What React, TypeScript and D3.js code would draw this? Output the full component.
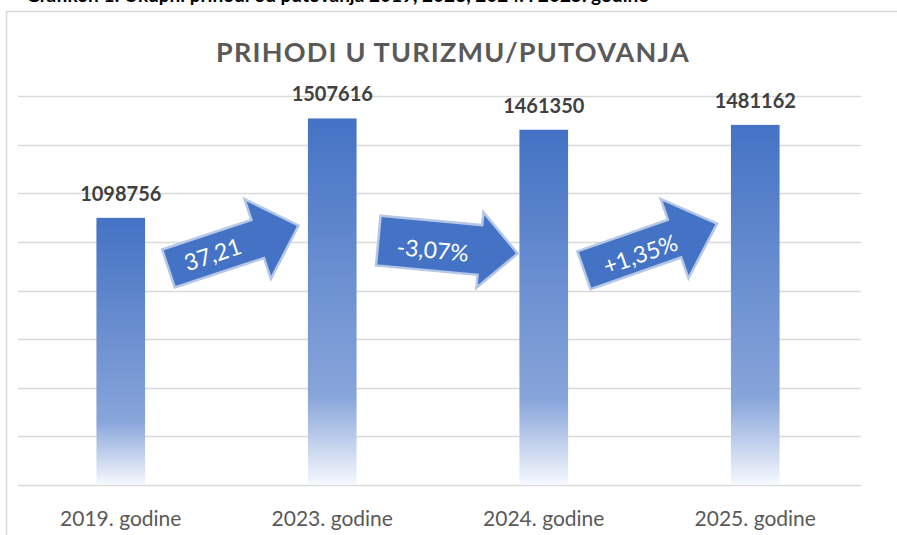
import * as d3 from 'd3';
import React, { useEffect, useRef } from 'react';

const categories = ['2019. godine', '2023. godine', '2024. godine', '2025. godine'];
const revenues = [1098756, 1507616, 1461350, 1481162];
const changeLabels = ['37,21', '-3,07%', '+1,35%'];
const yMax = 1600000;
const yStep = 200000;

const caption = 'Grafikon 1: Ukupni prihodi od putovanja 2019, 2023, 2024. i 2025. godine';
const title = 'PRIHODI U TURIZMU/PUTOVANJA';

// shape of each arrow (angle in degrees, length, shaft width, head width, head length, dx)
const arrowShapes = [
  { angle: -18.3, len: 137, sw: 40, hw: 84, hl: 43, dx: 7, tx: -22, ty: 3 },
  { angle: 5.3, len: 140, sw: 50, hw: 76, hl: 38, dx: 10, tx: -15, ty: 7 },
  { angle: -19.3, len: 141, sw: 40, hw: 84, hl: 45, dx: 1, tx: -12, ty: 6 },
];

const App = () => {
  const svgRef = useRef<SVGSVGElement>(null);

  useEffect(() => {
    const width = 897;
    const height = 535;
    const margin = { top: 96, right: 36, bottom: 50, left: 15 };

    const svg = d3.select(svgRef.current);
    svg.selectAll('*').remove();
    svg.attr('width', width).attr('height', height);

    const font = 'Lato, Carlito, Calibri, sans-serif';

    // gradient for bars
    const defs = svg.append('defs');
    const grad = defs.append('linearGradient')
      .attr('id', 'barGrad')
      .attr('x1', 0).attr('y1', 0).attr('x2', 0).attr('y2', 1);
    grad.append('stop').attr('offset', '0%').attr('stop-color', '#4472C4');
    grad.append('stop').attr('offset', '76%').attr('stop-color', '#88A5DA');
    grad.append('stop').attr('offset', '100%').attr('stop-color', '#F6F8FD');

    // caption cut off at the top
    svg.append('text')
      .attr('x', 26)
      .attr('y', 2)
      .attr('font-family', font)
      .attr('font-weight', 'bold')
      .attr('font-size', 19)
      .attr('fill', '#000')
      .text(caption);

    // chart frame
    svg.append('rect')
      .attr('x', 6.5).attr('y', 11.5)
      .attr('width', 1000).attr('height', 1000)
      .attr('fill', '#fff')
      .attr('stroke', '#D9D9D9')
      .attr('stroke-width', 1.5);

    const xScale = d3.scaleBand()
      .domain(categories)
      .range([margin.left, width - margin.right])
      .paddingInner(0.77)
      .paddingOuter(0.385);

    const yScale = d3.scaleLinear()
      .domain([0, yMax])
      .range([height - margin.bottom, margin.top]);

    // gridlines
    svg.append('g')
      .selectAll('line')
      .data(d3.range(0, yMax + 1, yStep))
      .enter()
      .append('line')
      .attr('x1', 18)
      .attr('x2', width - margin.right)
      .attr('y1', d => Math.round(yScale(d)) + 0.5)
      .attr('y2', d => Math.round(yScale(d)) + 0.5)
      .attr('stroke', '#D9D9D9')
      .attr('stroke-width', 1.5);

    // title
    svg.append('text')
      .attr('x', 453)
      .attr('y', 62)
      .attr('text-anchor', 'middle')
      .attr('font-family', font)
      .attr('font-weight', 'bold')
      .attr('font-size', 27)
      .attr('letter-spacing', 1.2)
      .attr('fill', '#595959')
      .text(title);

    // bars
    svg.append('g')
      .selectAll('rect')
      .data(revenues)
      .enter()
      .append('rect')
      .attr('x', (d, i) => xScale(categories[i]))
      .attr('y', d => yScale(d))
      .attr('width', xScale.bandwidth())
      .attr('height', d => yScale(0) - yScale(d))
      .attr('fill', 'url(#barGrad)');

    // value labels
    svg.append('g')
      .selectAll('text')
      .data(revenues)
      .enter()
      .append('text')
      .attr('x', (d, i) => xScale(categories[i]) + xScale.bandwidth() / 2)
      .attr('y', d => yScale(d) - 17)
      .attr('text-anchor', 'middle')
      .attr('font-family', font)
      .attr('font-weight', 'bold')
      .attr('font-size', 20)
      .attr('fill', '#404040')
      .text(d => d);

    // category labels
    svg.append('g')
      .selectAll('text')
      .data(categories)
      .enter()
      .append('text')
      .attr('x', d => xScale(d) + xScale.bandwidth() / 2)
      .attr('y', 526)
      .attr('text-anchor', 'middle')
      .attr('font-family', font)
      .attr('font-size', 21)
      .attr('fill', '#595959')
      .text(d => d);

    // change arrows between bars
    const arrowPath = (s) => {
      const t = -s.len / 2, tip = s.len / 2, hb = tip - s.hl;
      return `M${t},${-s.sw / 2}L${hb},${-s.sw / 2}L${hb},${-s.hw / 2}L${tip},0` +
        `L${hb},${s.hw / 2}L${hb},${s.sw / 2}L${t},${s.sw / 2}Z`;
    };

    const arrows = svg.append('g')
      .selectAll('g')
      .data(changeLabels)
      .enter()
      .append('g')
      .attr('transform', (d, i) => {
        const s = arrowShapes[i];
        const a = xScale(categories[i]) + xScale.bandwidth() / 2;
        const b = xScale(categories[i + 1]) + xScale.bandwidth() / 2;
        return `translate(${(a + b) / 2 + s.dx},247) rotate(${s.angle})`;
      });

    arrows.append('path')
      .attr('d', (d, i) => arrowPath(arrowShapes[i]))
      .attr('fill', '#4472C4')
      .attr('stroke', '#B4C7E7')
      .attr('stroke-width', 2.5)
      .attr('stroke-linejoin', 'miter');

    arrows.append('text')
      .attr('x', (d, i) => arrowShapes[i].tx)
      .attr('y', (d, i) => arrowShapes[i].ty)
      .attr('text-anchor', 'middle')
      .attr('dominant-baseline', 'middle')
      .attr('font-family', font)
      .attr('font-size', 23)
      .attr('fill', '#fff')
      .text(d => d);
  }, []);

  return <svg ref={svgRef} style={{ position: 'absolute', left: 0, top: 0 }}></svg>;
};

export default App;
